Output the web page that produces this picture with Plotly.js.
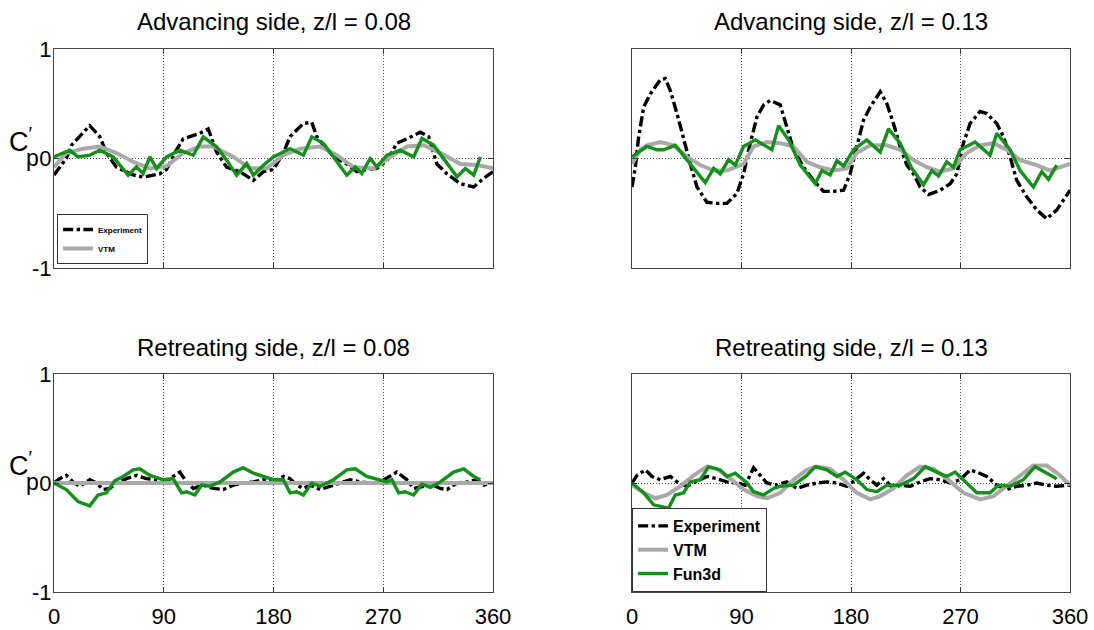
<!DOCTYPE html>
<html>
<head>
<meta charset="utf-8">
<script src="https://cdn.plot.ly/plotly-3.0.1.min.js"></script>
<style>html,body{margin:0;padding:0;background:#fff;}#chart{width:1094px;height:630px;}</style>
</head>
<body>
<div id="chart"></div>
<script>
// ---------- Advancing side, z/l = 0.08 ----------
var adv08ExpX = [0,10.1,14.2,29.3,37.5,43,51.2,64.9,73.1,86.8,92.3,100.5,106,119.6,126.5,133.3,141.6,152.5,163.5,171.7,179.9,188.1,193.6,204.5,211.4,215.5,223.7,231.9,240.1,248.3,256.5,264.8,273,281.2,289.4,300.4,307.2,314,322.3,333.2,344.2,352.4,360];
var adv08ExpY = [-0.15,0,0.12,0.3,0.2,0.05,-0.08,-0.15,-0.17,-0.14,-0.1,0.08,0.18,0.23,0.27,0.06,-0.08,-0.12,-0.2,-0.12,-0.1,0.05,0.2,0.32,0.33,0.2,0.08,0,-0.05,-0.12,-0.1,-0.09,-0.02,0.14,0.18,0.24,0.2,-0.05,-0.14,-0.23,-0.26,-0.18,-0.12];
var adv08VtmX = [0,10.1,23.8,37.5,51.2,64.9,78.6,92.3,106,119.7,130.6,147.1,160.8,174.5,188.2,201.9,218.3,232,245.7,262.2,275.9,289.6,303.3,317,333.2,347,360];
var adv08VtmY = [-0.08,0.05,0.09,0.11,0.05,-0.03,-0.09,-0.07,0.05,0.11,0.11,0.015,-0.09,-0.09,0.03,0.09,0.11,0.03,-0.08,-0.09,0.015,0.11,0.12,0.05,-0.05,-0.06,-0.09];
var adv08FunX = [0,12.9,19.7,29.3,37.5,48.5,60.8,67.6,73.1,78.6,84.1,92.3,103.2,114.2,122.4,133.3,141.6,149.8,158,163.5,171.7,179.9,193.6,204.5,211.4,221,229.2,240.1,247,252.4,259.3,264.8,273,283.9,294.9,301.7,311.3,322.3,330.5,337.3,344.2,349.6];
var adv08FunY = [0.015,0.076,0.015,0.03,0.076,0.015,-0.152,-0.076,-0.137,0.015,-0.091,0.015,0.076,0.03,0.198,0.107,-0.015,-0.152,-0.046,-0.152,-0.061,0.015,0.091,0.03,0.198,0.137,0.015,-0.152,-0.076,-0.137,0,-0.076,0.03,0.076,0.015,0.183,0.122,-0.046,-0.167,-0.091,-0.152,0.015];

// ---------- Advancing side, z/l = 0.13 ----------
var adv13ExpX = [0,2.7,5.5,9.6,15.1,23.3,27.4,31.5,37,42.4,47.9,53.4,61.6,69.8,78,86.2,91.7,97.2,102.7,108.2,113.6,121.8,127.3,132.8,141,149.2,157.4,165.6,173.9,179.3,184.8,190.3,195.8,204,209.5,214.9,220.4,225.9,231.4,236.8,243.7,253.3,261.5,267,272.4,277.9,286.1,291.6,299.8,305.3,310.8,316.2,324.4,332.7,340.9,349.1,354.6,360];
var adv13ExpY = [-0.26,-0.08,0.2,0.47,0.59,0.72,0.73,0.62,0.41,0.17,-0.05,-0.26,-0.4,-0.41,-0.41,-0.32,-0.14,0.14,0.38,0.49,0.53,0.49,0.29,0.08,-0.08,-0.2,-0.3,-0.3,-0.29,-0.14,0.11,0.35,0.47,0.61,0.5,0.32,0.11,-0.06,-0.14,-0.26,-0.33,-0.29,-0.23,-0.14,0.14,0.32,0.43,0.41,0.32,0.2,0.015,-0.2,-0.35,-0.47,-0.55,-0.47,-0.38,-0.29];
var adv13VtmX = [0,6.8,12.3,23.3,34.2,45.2,56.1,67.1,78,91.7,99.9,110.9,121.8,132.8,143.7,154.7,165.6,176.6,184.8,195.8,209.5,220.4,231.4,242.3,253.3,264.2,275.2,286.1,297.1,308,319,332.7,343.6,360];
var adv13VtmY = [-0.05,0.08,0.12,0.15,0.12,0.015,-0.06,-0.11,-0.11,-0.05,0.11,0.15,0.14,0.11,-0.03,-0.08,-0.11,-0.09,0.05,0.12,0.12,0.08,-0.015,-0.08,-0.12,-0.09,0.05,0.12,0.14,0.08,-0.015,-0.06,-0.11,-0.05];
var adv13FunX = [0,12.3,20.5,26,35.6,45.2,60.2,67.1,72.6,79.4,84.9,91.7,101.3,115,120.5,128.7,138.3,150.6,156.1,162.9,168.4,173.9,182.1,193,204,210.8,220.4,230,239.6,246.4,251.9,258.7,264.2,269.7,282,294.3,299.8,310.8,319,329.9,336.8,342.3,349.1];
var adv13FunY = [0.015,0.11,0.08,0.08,0.12,-0.015,-0.22,-0.09,-0.14,-0.01,-0.06,0.11,0.17,0.08,0.3,0.17,-0.06,-0.23,-0.11,-0.15,-0.02,-0.07,0.08,0.17,0.06,0.27,0.14,-0.09,-0.24,-0.11,-0.16,-0.03,-0.08,0.08,0.15,0.03,0.23,0.08,-0.11,-0.26,-0.12,-0.19,-0.06];

// ---------- Retreating side, z/l = 0.08 ----------
var ret08ExpX = [0,4.7,10.1,15.6,21.1,29.3,34.8,40.2,45.7,51.2,59.4,67.6,75.8,84.1,92.3,97.7,103.2,108.7,114.2,122.4,130.6,138.8,147,155.2,163.5,171.7,179.9,188.1,193.6,199.1,204.5,210,218.2,226.4,234.6,242.9,251.1,259.3,267.5,275.7,281.2,289.4,294.9,303.1,311.3,316.8,322.3,330.5,338.7,346.9,352.4,360];
var ret08ExpY = [0,0.04,0.07,0.01,-0.03,0.03,0,-0.06,-0.05,0,0.04,0.07,0.04,0.03,0.01,0.06,0.1,0.01,-0.05,-0.02,-0.05,-0.06,-0.02,0,0.01,0.03,0.01,0.06,0.04,-0.02,-0.05,-0.02,-0.06,-0.03,0,0.03,0.01,0,0.01,0.06,0.1,0.03,-0.05,-0.03,-0.02,-0.05,-0.06,0,0.01,0.03,-0.02,0];
var ret08VtmX = [0,90,180,270,360];
var ret08VtmY = [0,0,0,0,0];
var ret08FunX = [0,10.1,19.7,29.3,36.1,43,49.8,56.7,64.9,70.4,78.6,89.5,97.7,104.6,108.7,115.5,121,127.9,136.1,147,155.2,163.5,179.9,188.1,193.6,199.1,204.5,211.4,218.2,229.2,240.1,247,256.5,273,277.1,282.6,288,294.9,301.7,308.6,316.8,327.7,336,344.2,349.6];
var ret08FunY = [0,-0.06,-0.17,-0.21,-0.11,-0.09,0.02,0.06,0.12,0.13,0.07,0.03,0.04,-0.09,-0.08,-0.11,-0.02,-0.03,0.01,0.1,0.14,0.09,0.03,0.03,-0.09,-0.08,-0.11,0,-0.03,0.03,0.12,0.13,0.06,0.01,0.03,-0.09,-0.08,-0.11,-0.01,-0.04,0.01,0.1,0.13,0.06,0.03];

// ---------- Retreating side, z/l = 0.13 ----------
var ret13ExpX = [0,4.1,11,16.4,23.3,31.5,38.3,45.2,52,61.6,69.8,78,86.2,93.1,99.9,105.4,110.9,119.1,127.3,135.5,143.7,152,160.2,168.4,176.6,184.8,190.3,195.8,201.2,206.7,214.9,220.4,228.6,236.8,245.1,253.3,261.5,269.7,277.9,283.4,291.6,299.8,308,316.2,324.4,332.7,340.9,349.1,360];
var ret13ExpY = [0,0.07,0.12,0.06,0.03,0.06,0,-0.03,0.01,0.06,0.04,0.01,0,-0.02,0.14,0.07,0,-0.02,0.01,-0.05,-0.02,0,0.01,0,-0.03,0.04,0.09,0.03,-0.02,0.04,-0.05,-0.02,-0.03,0.01,0.04,0.03,0,0.03,0.12,0.1,0.06,-0.02,-0.06,-0.03,-0.02,0,-0.02,-0.03,-0.02];
var ret13VtmX = [0,9.6,19.2,28.7,39.7,50.7,61.6,69.8,80.8,91.7,102.7,110.9,121.8,132.8,143.7,152,162.9,173.9,184.8,195.8,204,214.9,225.9,236.8,247.8,258.7,272.4,286.1,297.1,308,319,329.9,340.9,351.8,360];
var ret13VtmY = [-0.02,-0.09,-0.14,-0.11,-0.03,0.07,0.15,0.13,0.04,-0.06,-0.12,-0.14,-0.09,0.03,0.12,0.15,0.13,0.03,-0.09,-0.15,-0.12,-0.05,0.07,0.15,0.13,0.04,-0.09,-0.15,-0.12,-0.03,0.07,0.16,0.16,0.07,-0.02];
var ret13FunX = [0,9.6,17.8,30.1,35.6,42.4,47.9,56.1,63,72.6,78,84.9,94.5,99.9,108.2,116.4,121.8,132.8,143.7,150.6,160.2,168.4,175.2,184.8,193,201.2,209.5,220.4,231.4,241,250.5,258.7,265.6,275.2,283.4,294.3,301.1,310.8,321.7,331.3,340.9,349.1];
var ret13FunY = [0,-0.09,-0.2,-0.23,-0.11,-0.09,0.01,0.03,0.15,0.12,0.06,0.09,0,-0.08,-0.11,-0.05,-0.03,-0.02,0.07,0.15,0.12,0.06,0.1,0.03,-0.06,-0.08,-0.02,-0.02,0.04,0.15,0.1,0.06,0.1,0,-0.09,-0.09,-0.02,-0.03,0.03,0.15,0.09,0.04];

var seriesNames = ['Experiment', 'VTM', 'Fun3d'];
var panelTitles = ['Advancing side, z/l = 0.08', 'Advancing side, z/l = 0.13', 'Retreating side, z/l = 0.08', 'Retreating side, z/l = 0.13'];
var xTickVals = [0, 90, 180, 270, 360];
var xTickText = ['0', '90', '180', '270', '360'];
var yTickVals = [-1, 0, 1];
var yTickText = ['-1', '0', '1'];

var panels = [
  {ax: '', exp: [adv08ExpX, adv08ExpY], vtm: [adv08VtmX, adv08VtmY], fun: [adv08FunX, adv08FunY], legend: 'legend', legFun: false},
  {ax: '2', exp: [adv13ExpX, adv13ExpY], vtm: [adv13VtmX, adv13VtmY], fun: [adv13FunX, adv13FunY], legend: null},
  {ax: '3', exp: [ret08ExpX, ret08ExpY], vtm: [ret08VtmX, ret08VtmY], fun: [ret08FunX, ret08FunY], legend: null},
  {ax: '4', exp: [ret13ExpX, ret13ExpY], vtm: [ret13VtmX, ret13VtmY], fun: [ret13FunX, ret13FunY], legend: 'legend2', legFun: true}
];

var styles = [
  {color: '#000000', width: 3.4, dash: 'dashdot'},
  {color: '#a9a9a9', width: 4, dash: 'solid'},
  {color: '#12921a', width: 3.4, dash: 'solid'}
];

var data = [];
panels.forEach(function (p) {
  [0, 1, 2].forEach(function (k) {
    var src = [p.exp, p.vtm, p.fun][k];
    var show = !!p.legend && (k < 2 || p.legFun);
    var tr = {
      type: 'scatter', mode: 'lines',
      x: src[0], y: src[1],
      name: seriesNames[k],
      xaxis: 'x' + p.ax, yaxis: 'y' + p.ax,
      line: {color: styles[k].color, width: styles[k].width, dash: styles[k].dash},
      showlegend: show
    };
    if (p.legend) tr.legend = p.legend;
    data.push(tr);
  });
});

var tickFont = {family: 'Liberation Sans, Arial, sans-serif', size: 22, color: '#000'};
function xa(domain, anchor, labels) {
  return {
    domain: domain, anchor: anchor, range: [0, 360], tickmode: 'array', tickvals: xTickVals, ticktext: xTickText,
    showticklabels: labels, ticks: 'inside', ticklen: 5, tickcolor: '#333', ticklabelstandoff: 5,
    showgrid: true, gridcolor: '#555', griddash: '1px,2px', gridwidth: 1,
    showline: true, linecolor: '#444', linewidth: 1, mirror: 'allticks', zeroline: false,
    tickfont: tickFont, fixedrange: true
  };
}
function ya(domain, anchor, labels) {
  return {
    domain: domain, anchor: anchor, range: [-1, 1], tickmode: 'array', tickvals: yTickVals, ticktext: yTickText,
    showticklabels: labels, ticks: 'inside', ticklen: 5, tickcolor: '#333', ticklabelstandoff: -3,
    showgrid: true, gridcolor: '#555', griddash: '1px,2px', gridwidth: 1,
    showline: true, linecolor: '#444', linewidth: 1, mirror: 'allticks', zeroline: false,
    tickfont: tickFont, fixedrange: true
  };
}

var W = 1094, H = 630;
var dxL = [54 / W, 493 / W], dxR = [632 / W, 1070 / W];
var dyT = [1 - 268 / H, 1 - 49 / H], dyB = [1 - 592 / H, 1 - 374 / H];

var titleFont = {family: 'Liberation Sans, Arial, sans-serif', size: 24, color: '#000'};
var annotations = [
  {text: panelTitles[0], x: (dxL[0] + dxL[1]) / 2, y: 1 - 22 / H},
  {text: panelTitles[1], x: (dxR[0] + dxR[1]) / 2, y: 1 - 22 / H},
  {text: panelTitles[2], x: (dxL[0] + dxL[1]) / 2, y: 1 - 347 / H},
  {text: panelTitles[3], x: (dxR[0] + dxR[1]) / 2, y: 1 - 347 / H}
].map(function (a) {
  return {text: a.text, x: a.x, y: a.y, xref: 'paper', yref: 'paper', xanchor: 'center', yanchor: 'middle', showarrow: false, font: titleFont};
});
// y-axis label C'p, drawn horizontally beside the 0 tick (as in the reference)
[158.5, 483].forEach(function (zeroPx) {
  annotations.push({text: 'C<sup>\u2032</sup>', x: 35 / W, y: 1 - (zeroPx - 19) / H, xref: 'paper', yref: 'paper',
    xanchor: 'right', yanchor: 'middle', showarrow: false,
    font: {family: 'Liberation Sans, Arial, sans-serif', size: 27, color: '#000'}});
  annotations.push({text: 'p', x: 24 / W, y: 1 - (zeroPx - 1) / H, xref: 'paper', yref: 'paper',
    xanchor: 'left', yanchor: 'middle', showarrow: false,
    font: {family: 'Liberation Sans, Arial, sans-serif', size: 23, color: '#000'}});
});

var layout = {
  width: W, height: H,
  margin: {l: 0, r: 0, t: 0, b: 0},
  paper_bgcolor: '#fff', plot_bgcolor: '#fff',
  xaxis: xa(dxL, 'y', false), yaxis: ya(dyT, 'x', true),
  xaxis2: xa(dxR, 'y2', false), yaxis2: ya(dyT, 'x2', false),
  xaxis3: xa(dxL, 'y3', true), yaxis3: ya(dyB, 'x3', true),
  xaxis4: xa(dxR, 'y4', true), yaxis4: ya(dyB, 'x4', false),
  annotations: annotations,
  legend: {
    x: 57 / W, y: 1 - 264 / H, xanchor: 'left', yanchor: 'bottom',
    bgcolor: '#fff', bordercolor: '#333', borderwidth: 1,
    font: {family: 'Liberation Sans, Arial, sans-serif', size: 8, color: '#000', weight: 'bold'},
    itemwidth: 30, tracegroupgap: 0
  },
  legend2: {
    x: 632 / W, y: 1 - 592 / H, xanchor: 'left', yanchor: 'bottom',
    bgcolor: '#fff', bordercolor: '#333', borderwidth: 1,
    font: {family: 'Liberation Sans, Arial, sans-serif', size: 16, color: '#000', weight: 'bold'},
    itemwidth: 30, tracegroupgap: 0
  },
  showlegend: true
};

Plotly.newPlot('chart', data, layout, {displayModeBar: false, staticPlot: true});
</script>
</body>
</html>
